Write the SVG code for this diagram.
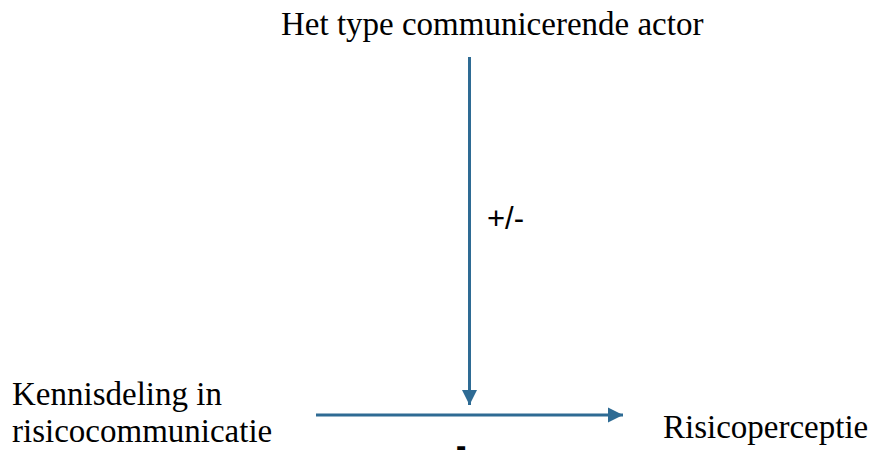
<svg xmlns="http://www.w3.org/2000/svg" width="879" height="463" viewBox="0 0 879 463">
<style>
.t{font-family:"Liberation Serif","Times New Roman",serif;font-size:33px;fill:#000}
.s{font-family:"Liberation Sans",Arial,sans-serif;font-size:31px;fill:#000}
.c{stroke:#2e6b94;stroke-width:3;fill:none}
</style>
<defs>
<marker id="ah" markerWidth="6" markerHeight="6" refX="5" refY="3" orient="auto" markerUnits="strokeWidth">
<path d="M0,0.5 L5,3 L0,5.5 Z" fill="#2e6b94"/>
</marker>
</defs>
<rect width="879" height="463" fill="#fff"/>
<g id="actor"><text class="t" x="281" y="35">Het type communicerende actor</text></g>
<g id="kennis"><text class="t" x="12" y="405">Kennisdeling in</text><text class="t" x="12" y="442">risicocommunicatie</text></g>
<g id="risico"><text class="t" x="663" y="438">Risicoperceptie</text></g>
<g id="connectors">
<line class="c" x1="469.5" y1="57" x2="469.5" y2="405" marker-end="url(#ah)"/>
<line class="c" x1="316" y1="415" x2="623" y2="415" marker-end="url(#ah)"/>
<text class="s" x="487" y="229">+/-</text>
<text class="s" x="456" y="456" font-size="28" font-weight="bold">-</text>
</g>
</svg>
